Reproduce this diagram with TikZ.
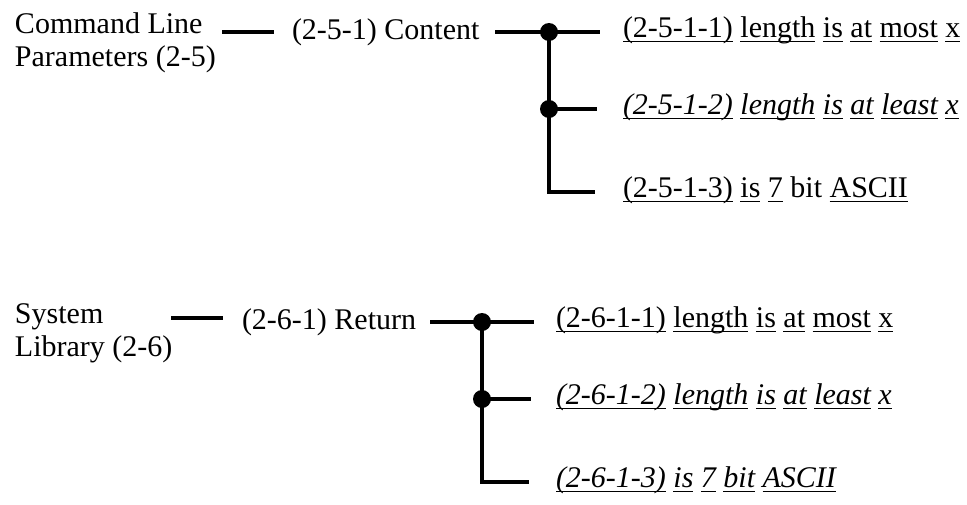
\documentclass[tikz,border=0pt]{standalone}
\usepackage{fontspec}
\setmainfont{Liberation Serif}
\newcommand\uw[1]{\setbox0\hbox{#1}\rlap{\rule[-5pt]{\wd0}{1.5pt}}\box0\relax}
\begin{document}
\begin{tikzpicture}[x=1pt,y=-1pt,
  txt/.style={anchor=base west,inner sep=0pt,outer sep=0pt,font=\fontsize{30}{33}\selectfont},
  conn/.style={line width=4pt,line join=miter},
  jdot/.style={circle,fill=black,inner sep=0pt,minimum size=18pt}]
\useasboundingbox (0,0) rectangle (967,504);
% ---- group 2-5 ----
\node[txt] (lp) at (15,33) {\begin{tabular}[t]{@{}l@{}}Command Line\\Parameters (2-5)\end{tabular}};
\node[txt] (ct) at (292,39) {(2-5-1) Content};
\node[jdot] (d1) at (549,32) {};
\node[jdot] (d2) at (549,109) {};
\coordinate (c1) at (549,192);
\node[txt] (r11) at (623,37) {\uw{(2-5-1-1)} \uw{length} \uw{is} \uw{at} \uw{most} \uw{x}};
\node[txt] (r12) at (623,114) {\itshape\uw{(2-5-1-2)} \uw{length} \uw{is} \uw{at} \uw{least} \uw{x}};
\node[txt] (r13) at (623,197) {\uw{(2-5-1-3)} \uw{is} \uw{7} bit \uw{ASCII}};
\draw[conn] ([xshift=-70pt]ct.west |- d1) -- ([xshift=-18pt]ct.west |- d1);
\draw[conn] ([xshift=16pt]ct.east |- d1) -- (d1.center) -- ([xshift=-23pt]r11.west |- d1);
\draw[conn] (d2.center) -- ([xshift=-26pt]r12.west |- d2);
\draw[conn] (d1.center) -- (c1) -- ([xshift=-28pt]r13.west |- c1);
% ---- group 2-6 ----
\node[txt] (sl) at (15,323) {\begin{tabular}[t]{@{}l@{}}System\\Library (2-6)\end{tabular}};
\node[txt] (rt) at (242,329) {(2-6-1) Return};
\node[jdot] (e1) at (482,322) {};
\node[jdot] (e2) at (482,399) {};
\coordinate (c2) at (482,482);
\coordinate (sdash) at (0,318);
\node[txt] (r21) at (556,327) {\uw{(2-6-1-1)} \uw{length} \uw{is} \uw{at} \uw{most} \uw{x}};
\node[txt] (r22) at (556,404) {\itshape\uw{(2-6-1-2)} \uw{length} \uw{is} \uw{at} \uw{least} \uw{x}};
\node[txt] (r23) at (556,487) {\itshape\uw{(2-6-1-3)} \uw{is} \uw{7} \uw{bit} \uw{ASCII}};
\draw[conn] ([xshift=-71pt]rt.west |- sdash) -- ([xshift=-19pt]rt.west |- sdash);
\draw[conn] ([xshift=14pt]rt.east |- e1) -- (e1.center) -- ([xshift=-22pt]r21.west |- e1);
\draw[conn] (e2.center) -- ([xshift=-25pt]r22.west |- e2);
\draw[conn] (e1.center) -- (c2) -- ([xshift=-27pt]r23.west |- c2);
\end{tikzpicture}
\end{document}
